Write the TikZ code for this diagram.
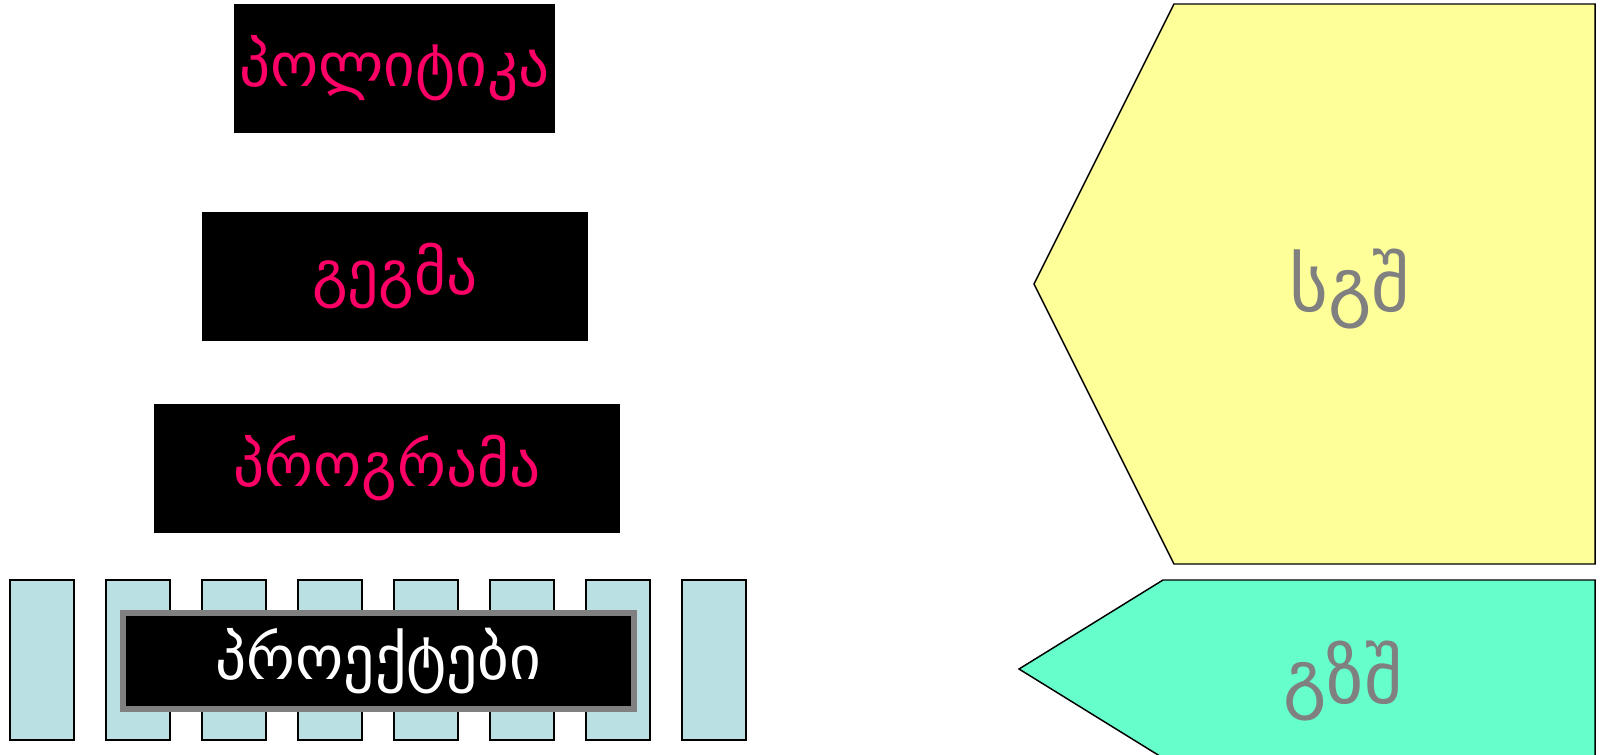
\documentclass[tikz,border=0pt]{standalone}
\usepackage{fontspec}
\setmainfont{DejaVu Sans}
\usetikzlibrary{positioning}

\definecolor{hotpink}{HTML}{FF0066}
\definecolor{paleyellow}{HTML}{FFFF99}
\definecolor{mintgreen}{HTML}{66FFCC}
\definecolor{lightteal}{HTML}{BBE0E3}
\definecolor{midgray}{HTML}{808080}

\tikzset{
  level/.style={fill=black, text=hotpink, inner sep=0pt,
    minimum height=129*0.75pt, font=\fontsize{46}{54}\selectfont},
  bar/.style={draw=black, fill=lightteal, line width=1.1pt},
  arrowshape/.style={draw=black, line width=1.1pt},
  tag/.style={text=midgray, font=\fontsize{56}{66}\selectfont},
}

\begin{document}
\begin{tikzpicture}[x=0.75pt,y=-0.75pt]
\useasboundingbox (0,0) rectangle (1601,754);

% Levels
\node[level, minimum width=321*0.75pt] (policy) at (394.5,68.5) {პოლიტიკა};
\node[level, minimum width=386*0.75pt] (plan) at (395,276.5) {გეგმა};
\node[level, minimum width=466*0.75pt] (program) at (387,468.5) {პროგრამა};

% Project bars
\foreach \i in {0,...,7}
  \draw[bar] ({10+96*\i},580) rectangle ++(64,160);

\node[level, text=white, draw=midgray, line width=4.5pt,
  minimum width=511*0.75pt, minimum height=96*0.75pt] (projects) at (378.5,661) {პროექტები};

% Right arrows
\draw[arrowshape, fill=paleyellow] (1174,4) -- (1595,4) -- (1595,564) -- (1174,564) -- (1034,284) -- cycle;
\node[tag] (sgsh) at (1350,289) {სგშ};

\draw[arrowshape, fill=mintgreen] (1163,580) -- (1595,580) -- (1595,758) -- (1163,758) -- (1019,669) -- cycle;
\node[tag] (gzsh) at (1343,681) {გზშ};

\end{tikzpicture}
\end{document}
